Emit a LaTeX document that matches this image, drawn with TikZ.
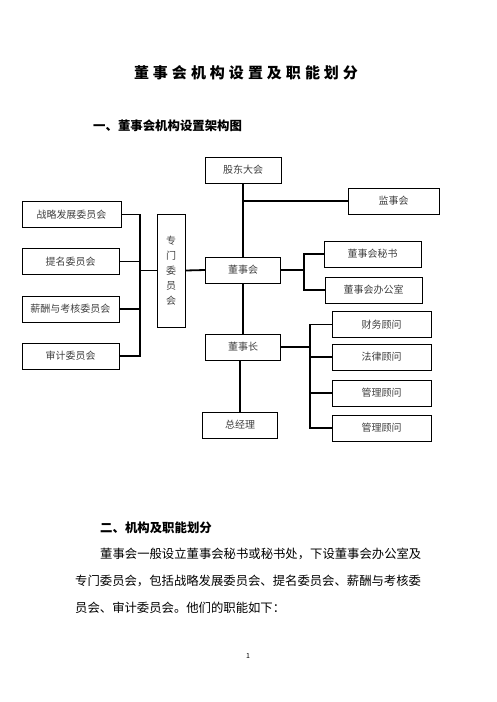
\documentclass[tikz,border=0pt]{standalone}
\usepackage{fontspec}
\setmainfont{Noto Sans CJK SC}
\newcommand{\tsp}{\hspace{4pt}}
\tikzset{
  box/.style={draw, line width=1pt, minimum height=26pt, inner sep=0pt,
    font=\fontsize{10}{12}\selectfont, text=black!75},
  link/.style={line width=1.8pt},
  txt/.style={anchor=west, inner sep=0pt, font=\fontsize{12.35}{14}\selectfont}
}
\begin{document}
\begin{tikzpicture}[x=1pt, y=-1pt]
    \useasboundingbox (0,0) rectangle (496,702);
    % title and heading
    \node[inner sep=0pt, font=\fontsize{15}{17}\selectfont\bfseries] (title) at (246,73)
      {董\tsp 事\tsp 会\tsp 机\tsp 构\tsp 设\tsp 置\tsp 及\tsp 职\tsp 能\tsp 划\tsp 分};
    \node[txt, font=\fontsize{12.4}{14}\selectfont\bfseries] (sec1) at (93,126) {一、董事会机构设置架构图};
    % main column
    \node[box, minimum width=76pt] (gd) at (243,170) {股东大会};
    \node[box, minimum width=91pt] (jsh) at (393.5,201) {监事会};
    \node[box, minimum width=75pt] (dsh) at (243,270) {董事会};
    \node[box, minimum width=75pt] (dsz) at (243,347) {董事长};
    \node[box, minimum width=75pt] (zjl) at (240,425) {总经理};
    % under the board
    \node[box, minimum width=97pt] (mishu) at (372.5,254) {董事会秘书};
    \node[box, minimum width=97pt] (bgs) at (373.5,290) {董事会办公室};
    % advisors
    \node[box, minimum width=99pt] (gw1) at (381.5,324.5) {财务顾问};
    \node[box, minimum width=99pt] (gw2) at (381.5,357) {法律顾问};
    \node[box, minimum width=99pt] (gw3) at (381.5,393) {管理顾问};
    \node[box, minimum width=99pt] (gw4) at (381.5,428) {管理顾问};
    % committees
    \node[box, minimum width=99pt] (zl) at (71.5,214.5) {战略发展委员会};
    \node[box, minimum width=97pt] (tm) at (70.5,261.5) {提名委员会};
    \node[box, minimum width=97pt] (xc) at (70.5,309) {薪酬与考核委员会};
    \node[box, minimum width=97pt] (sj) at (70.5,356) {审计委员会};
    \node[box, minimum width=28pt, minimum height=113pt, align=center,
      font=\fontsize{10}{15}\selectfont] (zm) at (171,270.5) {专\\门\\委\\员\\会};
    \coordinate (wbus) at (140,0);
    \coordinate (ebus) at (304,0);
    \coordinate (gbus) at (310,0);
    % connectors
    \draw[link] (gd.south) -- (dsh.north);
    \draw[link] (dsh.south) -- (dsz.north);
    \draw[link] (dsz.south -| zjl.north) -- (zjl.north);
    \draw[link] (gd.south |- jsh.west) -- (jsh.west);
    \draw[link] (dsh.east) -- (dsh.east -| ebus);
    \draw[link] (mishu.west) -- (mishu.west -| ebus) -- (bgs.west -| ebus) -- (bgs.west);
    \draw[link] (dsz.east) -- (dsz.east -| gbus);
    \draw[link] (gw1.west) -- (gw1.west -| gbus) -- (gw4.west -| gbus) -- (gw4.west);
    \draw[link] (gw2.west) -- (gw2.west -| gbus);
    \draw[link] (gw3.west) -- (gw3.west -| gbus);
    \draw[link] (zl.east) -- (zl.east -| wbus) -- (sj.east -| wbus) -- (sj.east);
    \draw[link] (tm.east) -- (tm.east -| wbus);
    \draw[link] (xc.east) -- (xc.east -| wbus);
    \draw[link] (zm.west -| wbus) -- (zm.west);
    \draw[link] (zm.east) -- (dsh.west);
    % text below
    \node[txt, font=\fontsize{12.4}{14}\selectfont\bfseries] (sec2) at (100,528) {二、机构及职能划分};
    \node[txt] (p1) at (100,554) {董事会一般设立董事会秘书或秘书处，下设董事会办公室及};
    \node[txt] (p2) at (75,581) {专门委员会，包括战略发展委员会、提名委员会、薪酬与考核委};
    \node[txt] (p3) at (75,608) {员会、审计委员会。他们的职能如下：};
    \node[inner sep=0pt, font=\fontsize{7}{8}\selectfont] (page) at (248,656) {1};
\end{tikzpicture}
\end{document}
